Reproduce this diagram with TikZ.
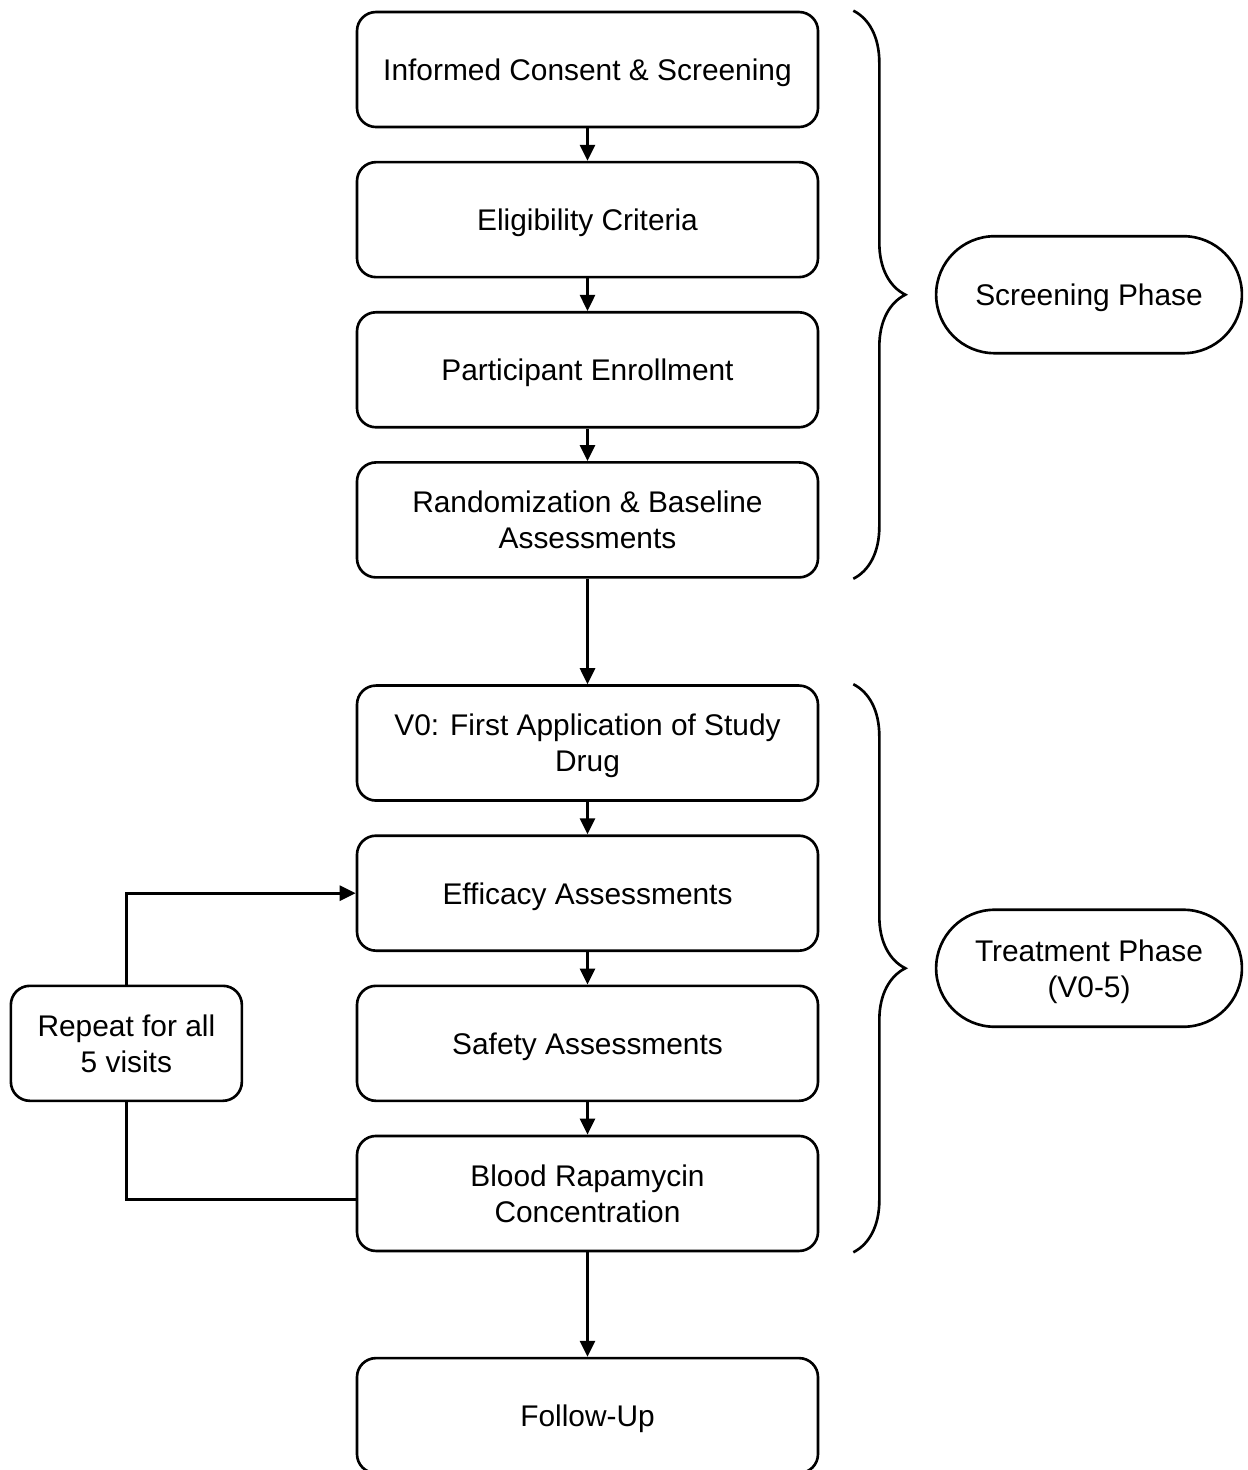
\documentclass[tikz,border=0pt]{standalone}
\usepackage{fontspec}
\setmainfont{Liberation Sans}
\usetikzlibrary{arrows.meta, positioning, calc, shapes.misc, decorations.pathreplacing}

\begin{document}
\begin{tikzpicture}[
  >={Triangle[width=0.3cm,length=0.32cm]}, line width=1.5pt,
  font=\fontsize{17}{20.5}\selectfont,
  node distance=0.65cm and 2.25cm,
  stepbox/.style={draw, rectangle, rounded corners=0.38cm, minimum height=2.3cm, minimum width=9.22cm, align=center, text depth=0pt},
  loopbox/.style={draw, rectangle, rounded corners=0.38cm, minimum height=2.3cm, minimum width=4.62cm, align=center, text depth=0pt},
  phase/.style={draw, rounded rectangle, minimum height=2.34cm, minimum width=6.35cm, align=center, text depth=0pt},
  phasebrace/.style={decorate, decoration={brace, amplitude=1.04cm}}
]
  \useasboundingbox (0,0) rectangle (24.96,-29.4);

  % Screening Phase: main column
  \node[stepbox] (consent) at (11.75,-1.39) {Informed Consent \& Screening};
  \node[stepbox, below=of consent] (elig) {Eligibility Criteria};
  \node[stepbox, below=of elig] (enroll) {Participant Enrollment};
  \node[stepbox, below=of enroll] (baseline) {Randomization \& Baseline\\Assessments};

  % Treatment Phase: visit steps
  \node[stepbox, below=2.11cm of baseline] (vzero) {V0: First Application of Study\\Drug};
  \node[stepbox, below=of vzero] (efficacy) {Efficacy Assessments};
  \node[stepbox, below=of efficacy] (safety) {Safety Assessments};
  \node[stepbox, below=of safety] (blood) {Blood Rapamycin\\Concentration};
  \node[stepbox, below=2.09cm of blood] (follow) {Follow-Up};

  % Repeat loop box
  \node[loopbox, left=of safety] (repeat) {Repeat for all\\5 visits};

  % Vertical connections
  \draw[->] (consent) -- (elig);
  \draw[->] (elig) -- (enroll);
  \draw[->] (enroll) -- (baseline);
  \draw[->] (baseline) -- (vzero);
  \draw[->] (vzero) -- (efficacy);
  \draw[->] (efficacy) -- (safety);
  \draw[->] (safety) -- (blood);
  \draw[->] (blood) -- (follow);

  % Loop back to efficacy
  \draw ([yshift=-0.12cm]blood.west) -| (repeat.south);
  \draw[->] (repeat.north) |- (efficacy.west);

  % Braces and phase labels
  \draw[phasebrace] ([xshift=0.68cm]consent.north east) -- ([xshift=0.68cm]baseline.south east);
  \draw[phasebrace] ([xshift=0.68cm]vzero.north east) -- ([xshift=0.68cm]blood.south east);
  \coordinate (scrmid) at ($(consent.north east)!0.5!(baseline.south east)$);
  \coordinate (trtmid) at ($(vzero.north east)!0.5!(blood.south east)$);
  \node[phase, right=2.31cm of scrmid] (scrphase) {Screening Phase};
  \node[phase, right=2.31cm of trtmid] (trtphase) {Treatment Phase\\(V0-5)};

\end{tikzpicture}
\end{document}
